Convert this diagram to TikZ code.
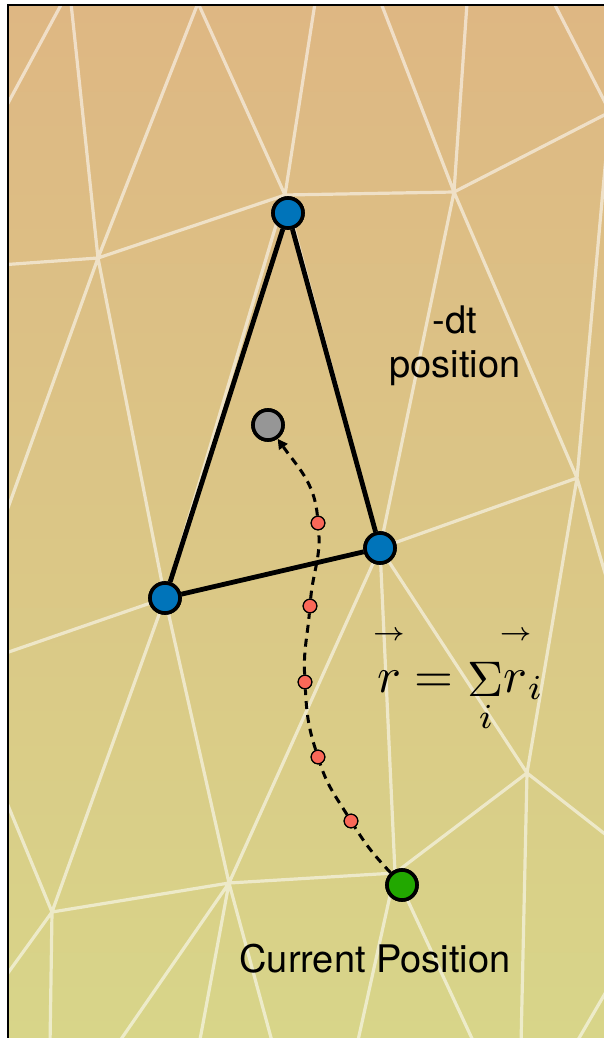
\documentclass[tikz,border=0pt]{standalone}
\usepackage{fontspec}
\setsansfont{TeX Gyre Heros}
\usetikzlibrary{arrows.meta}
\definecolor{bgtop}{RGB}{222,183,131}
\definecolor{bgmid}{RGB}{218,196,134}
\definecolor{bgbot}{RGB}{216,213,137}
\definecolor{vblue}{RGB}{0,116,186}
\definecolor{vgreen}{RGB}{34,168,0}
\definecolor{vgray}{RGB}{150,150,150}
\definecolor{vred}{RGB}{250,104,88}
\newcommand{\smallvec}[1]{\mathord{\mbox{\ooalign{$#1$\cr\hidewidth\raisebox{2.4ex}{$\scriptscriptstyle\rightarrow$}\hidewidth\cr}}}}
\begin{document}
\begin{tikzpicture}[x=0.5pt,y=-0.5pt,
  mesh/.style={white,opacity=0.55,line width=1.6pt},
  tri/.style={black,line width=2.4pt},
  dot/.style={circle,draw=black,line width=1.8pt,inner sep=0pt,minimum size=15pt},
  bluedot/.style={dot,fill=vblue},
  reddot/.style={circle,draw=black,line width=0.6pt,inner sep=0pt,minimum size=6.8pt,fill=vred},
  path/.style={black,line width=1.5pt,dash pattern=on 4pt off 3pt},
  label/.style={font=\sffamily\fontsize{19}{22}\selectfont,inner sep=0pt}]
\useasboundingbox (0,0) rectangle (604,1038);
\fill[white] (0,0) rectangle (604,1038);
\shade[top color=bgtop,middle color=bgmid,bottom color=bgbot] (8,5) rectangle (604,1038);
% mesh
\coordinate (P1) at (62,3);
\coordinate (P2) at (71,3);
\coordinate (D) at (198,3);
\coordinate (P3) at (315,3);
\coordinate (P4) at (381,3);
\coordinate (P5) at (467,3);
\coordinate (P6) at (554,3);
\coordinate (A) at (285,195);
\coordinate (B) at (98,258);
\coordinate (C) at (454,192);
\coordinate (M) at (610,112);
\coordinate (E) at (577,478);
\coordinate (F) at (165,598);
\coordinate (Rm) at (380,548);
\coordinate (H) at (527,773);
\coordinate (I) at (229,883);
\coordinate (J) at (52,912);
\coordinate (K) at (395,873);
\coordinate (L1) at (0,118);
\coordinate (L2) at (0,265);
\coordinate (L3) at (0,530);
\coordinate (L4) at (0,655);
\coordinate (L5) at (0,786);
\coordinate (L6) at (0,984);
\coordinate (R1) at (610,590);
\coordinate (R2) at (610,838);
\coordinate (R3) at (610,985);
\coordinate (Q1) at (50,1045);
\coordinate (Q2) at (117,1045);
\coordinate (Q3) at (199,1045);
\coordinate (Q4) at (273,1045);
\coordinate (Q5) at (357,1045);
\coordinate (Q6) at (475,1045);
\coordinate (Q7) at (521,1045);
\coordinate (Q8) at (575,1045);
\begin{scope}
\clip (8,5) rectangle (604,1038);
\draw[mesh] (P1)--(L1) (P2)--(B) (D)--(B) (D)--(A) (P3)--(A) (P4)--(C) (P5)--(C) (P6)--(M)
  (A)--(B) (A)--(C) (C)--(M) (M)--(E) (B)--(L2) (B)--(L3) (B)--(F)
  (C)--(Rm) (C)--(E) (Rm)--(E) (E)--(R1) (E)--(H) (F)--(L4) (F)--(Rm) (A)--(F) (A)--(Rm)
  (F)--(J) (F)--(I) (Rm)--(I) (Rm)--(K) (Rm)--(H) (H)--(K) (H)--(R2) (H)--(Q7)
  (I)--(K) (I)--(J) (I)--(Q2) (I)--(Q3) (I)--(Q4) (K)--(Q5) (K)--(Q6)
  (J)--(L5) (J)--(L6) (J)--(Q1) (R3)--(Q8);
\end{scope}
\draw[line width=1.4pt] (8,1038) -- (8,5) -- (604,5);
% nodes
\node[bluedot] (T) at (288,213) {};
\node[bluedot] (Lb) at (165,598) {};
\node[bluedot] (Rb) at (380,548) {};
\node[dot,fill=vgray] (G) at (268,425) {};
\node[dot,fill=vgreen] (S) at (402,885) {};
\node[reddot] (r1) at (318,523) {};
\node[reddot] (r2) at (310,606) {};
\node[reddot] (r3) at (305,682) {};
\node[reddot] (r4) at (318,757) {};
\node[reddot] (r5) at (351,821) {};
% triangle
\draw[tri] (T) -- (Lb);
\draw[tri] (T) -- (Rb);
\draw[tri] (Lb) -- (Rb);
% dashed path
\draw[path] (S) to[out=133,in=-58] (r5);
\draw[path] (r5) to[out=122,in=-72] (r4);
\draw[path] (r4) to[out=108,in=-87] (r3);
\draw[path] (r3) to[out=93,in=-95] (r2);
\draw[path] (r2) to[out=85,in=-85] (r1);
\draw[path,-{Triangle[length=5pt,width=5pt]}] (r1) to[out=95,in=-55] (G);
% redraw nodes on top
\node[bluedot] at (T) {};
\node[bluedot] at (Lb) {};
\node[bluedot] at (Rb) {};
\node[dot,fill=vgray] at (G) {};
\node[dot,fill=vgreen] at (S) {};
\node[reddot] at (r1) {};
\node[reddot] at (r2) {};
\node[reddot] at (r3) {};
\node[reddot] at (r4) {};
\node[reddot] at (r5) {};
% labels
\node[label,align=center] (dt) at (455,346) {-dt\\position};
\node[label,anchor=base] (cur) at (375,972) {Current Position};
\node[inner sep=0pt,anchor=base west,scale=2.5] (eq) at (376,692)
  {$\smallvec{r} = \mathop{\Sigma}\limits_{i}\!\smallvec{r}_i$};
\end{tikzpicture}
\end{document}
